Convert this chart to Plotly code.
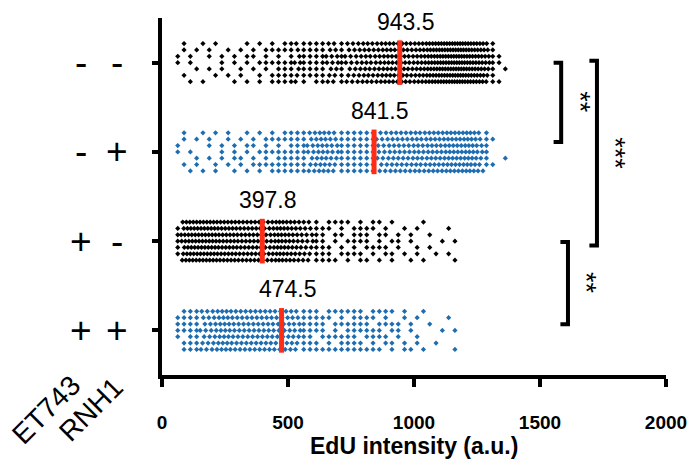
import plotly.graph_objects as go

# Conditions, listed top to bottom
et743 = ["-", "-", "+", "+"]
rnh1 = ["-", "+", "-", "+"]
row_pos = [4, 3, 2, 1]
medians = [943.5, 841.5, 397.8, 474.5]
median_labels = ["943.5", "841.5", "397.8", "474.5"]
dot_colors = ["#000000", "#1f6db1", "#000000", "#1f6db1"]

# Cell counts per 25 a.u. EdU-intensity bin, first bin starting at 50 a.u.
bin_start = 50
bin_width = 25
counts_et_minus_rnh_minus = [2, 3, 3, 2, 2, 3, 2, 3, 2, 3, 3, 4, 3, 4, 4, 5,
                             6, 6, 7, 8, 7, 6, 7, 7, 8, 8, 7, 8, 8, 9,
                             10, 9, 10, 11, 11, 10, 11, 10, 11, 12,
                             14, 15, 16, 16, 17, 17, 16, 15, 14, 12, 7, 3, 1]
counts_et_minus_rnh_plus = [2, 3, 2, 3, 2, 3, 3, 3, 3, 4, 3, 4, 4, 4, 5, 5,
                            6, 6, 7, 7, 7, 8, 9, 10, 9, 8, 7, 7, 7, 7, 7, 7,
                            8, 8, 9, 9, 9, 9, 10, 9, 10, 10, 10, 11, 11, 11, 12, 11, 9, 6, 2, 0, 1]
counts_et_plus_rnh_minus = [5, 12, 13, 13, 13, 13, 13, 12, 12, 12, 11, 11, 11, 11,
                            9, 11, 13, 12, 11, 10, 9, 8, 7, 6, 5,
                            4, 5, 4, 5, 6, 5, 4, 5, 4, 4, 3, 2, 3, 3, 2, 2, 1, 1, 2, 2]
counts_et_plus_rnh_plus = [4, 6, 7, 7, 8, 8, 9, 10, 10, 9, 9, 9, 9, 9, 9, 9, 8, 8, 9, 8,
                           7, 7, 6, 5, 5, 5, 6, 6, 7, 6, 5, 6, 5, 5, 5, 3, 4, 3, 3,
                           2, 1, 1, 1, 1, 2]
row_counts = [counts_et_minus_rnh_minus, counts_et_minus_rnh_plus,
              counts_et_plus_rnh_minus, counts_et_plus_rnh_plus]

# Significance comparisons (row span, bracket position, label)
bracket_top = [4.0, 4.02, 1.99]
bracket_bottom = [3.11, 1.95, 1.07]
bracket_x = [1584, 1726, 1611]
bracket_labels = ["**", "***", "**"]

FONT = "Liberation Sans, Arial, Helvetica, sans-serif"
LANES = [0, 1, -1, 2, -2, 3, -3]
LANE_STEP = 0.071
MIN_GAP = 20          # a.u. between neighbouring dots in one lane
ARM = 30


def dot_swarm(counts, y0):
    """Lay out binned cells as a swarm: sparse bins stack as columns,
    dense bins are swept right-to-left into the first free lane."""
    pts = []
    for b, n in enumerate(counts):
        lo = bin_start + b * bin_width
        for k in range(n):
            if n <= 7:
                pts.append((lo + bin_width / 2, LANES[(k + 3 * b) % 7]))
            else:
                pts.append((lo + bin_width * (k + 0.5) / n, None))
    pts.sort(key=lambda p: -p[0])
    last = {l: 1e9 for l in LANES}
    xs, ys = [], []
    for x, lane in pts:
        if lane is None:
            free = [l for l in LANES if last[l] - x >= MIN_GAP]
            lane = free[0] if free else max(LANES, key=lambda l: last[l])
        last[lane] = x
        xs.append(x)
        ys.append(y0 + lane * LANE_STEP)
    return xs, ys


fig = go.Figure()

for counts, y0, color in zip(row_counts, row_pos, dot_colors):
    xs, ys = dot_swarm(counts, y0)
    fig.add_trace(go.Scatter(
        x=xs, y=ys, mode="markers",
        marker=dict(symbol="diamond", size=4, color=color, line=dict(width=0)),
        hoverinfo="x", showlegend=False))

for m, y0, lab in zip(medians, row_pos, median_labels):
    fig.add_trace(go.Scatter(
        x=[m, m], y=[y0 - 0.25, y0 + 0.25], mode="lines",
        line=dict(color="#ff2d16", width=5), showlegend=False, hoverinfo="skip"))
    fig.add_annotation(x=m, y=y0, text=lab, showarrow=False, xshift=6, yshift=41,
                       font=dict(family=FONT, size=23, color="black"))

for top, bot, bx, lab in zip(bracket_top, bracket_bottom, bracket_x, bracket_labels):
    fig.add_trace(go.Scatter(
        x=[bx - ARM, bx, bx, bx - ARM], y=[top, top, bot, bot], mode="lines",
        line=dict(color="black", width=4), showlegend=False, hoverinfo="skip"))
    fig.add_annotation(x=bx, y=(top + bot) / 2, text=lab, showarrow=False,
                       textangle=90, xshift=18,
                       font=dict(family=FONT, size=27, color="black"))

for y0, a, b in zip(row_pos, et743, rnh1):
    fig.add_annotation(x=0, y=y0, text=a, showarrow=False, xshift=-81,
                       xanchor="center", yanchor="middle",
                       font=dict(family=FONT, size=37, color="black"))
    fig.add_annotation(x=0, y=y0, text=b, showarrow=False, xshift=-45,
                       xanchor="center", yanchor="middle",
                       font=dict(family=FONT, size=37, color="black"))

fig.add_annotation(xref="paper", yref="paper", x=-0.229, y=-0.097, text="ET743",
                   showarrow=False, textangle=-45, xanchor="center", yanchor="middle",
                   font=dict(family=FONT, size=28, color="black"))
fig.add_annotation(xref="paper", yref="paper", x=-0.141, y=-0.097, text="RNH1",
                   showarrow=False, textangle=-45, xanchor="center", yanchor="middle",
                   font=dict(family=FONT, size=28, color="black"))

# Axis title
fig.add_annotation(xref="paper", yref="paper", x=0.5, y=-0.2, text="EdU intensity (a.u.)",
                   showarrow=False, xanchor="center", yanchor="middle",
                   font=dict(family=FONT, size=23, weight="bold", color="black"))

fig.update_layout(
    width=699, height=470,
    margin=dict(l=162, r=27, t=18, b=95),
    paper_bgcolor="white", plot_bgcolor="white",
    font=dict(family=FONT, color="black"),
    xaxis=dict(
        range=[0, 2000], tickvals=[0, 500, 1000, 1500, 2000],
        showline=True, linecolor="black", linewidth=4,
        ticks="outside", ticklen=8, tickwidth=4, tickcolor="black",
        showgrid=False, zeroline=False,
        tickfont=dict(family=FONT, size=19, weight="bold"),
        ticklabelstandoff=19,
    ),
    yaxis=dict(
        range=[0.5, 4.5], tickvals=row_pos, showticklabels=False,
        showline=True, linecolor="black", linewidth=4,
        ticks="outside", ticklen=6, tickwidth=4, tickcolor="black",
        showgrid=False, zeroline=False,
    ),
)

fig.write_html("out.html")
